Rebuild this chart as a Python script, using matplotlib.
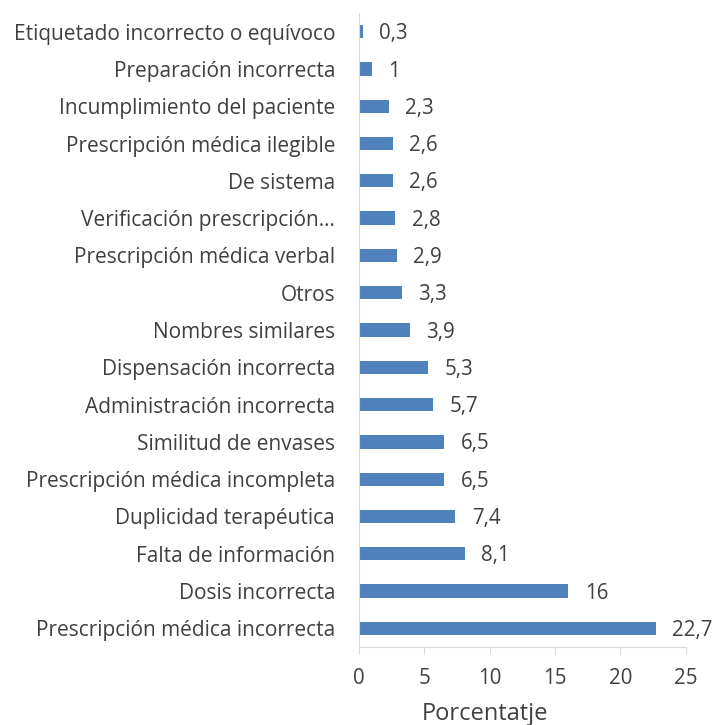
import matplotlib
matplotlib.use("Agg")
import matplotlib.pyplot as plt

categories = [
    "Prescripción médica incorrecta",
    "Dosis incorrecta",
    "Falta de información",
    "Duplicidad terapéutica",
    "Prescripción médica incompleta",
    "Similitud de envases",
    "Administración incorrecta",
    "Dispensación incorrecta",
    "Nombres similares",
    "Otros",
    "Prescripción médica verbal",
    "Verificación prescripción…",
    "De sistema",
    "Prescripción médica ilegible",
    "Incumplimiento del paciente",
    "Preparación incorrecta",
    "Etiquetado incorrecto o equívoco",
]
values = [22.7, 16, 8.1, 7.4, 6.5, 6.5, 5.7, 5.3, 3.9, 3.3, 2.9, 2.8, 2.6, 2.6, 2.3, 1, 0.3]
xticks = [0, 5, 10, 15, 20, 25]
xlabel = "Porcentatje"

plt.rcParams['font.family'] = ['Open Sans', 'DejaVu Sans']
txt = '#404040'
grey = '#D9D9D9'

fig = plt.figure(figsize=(7.16, 7.25), dpi=100)
ax = fig.add_axes([358.7/716, 1-647/725, (685.7-358.7)/716, (647-13)/725])

ypos = list(range(len(categories)))
ax.barh(ypos, values, height=0.357, color='#4F81BD')
for y, v in zip(ypos, values):
    s = f"{v:g}".replace('.', ',')
    ax.annotate(s, (v, y), xytext=(12, -1.5), textcoords='offset points',
                va='center', ha='left', fontsize=14.8, color=txt)

ax.set_xlim(0, 25)
ax.set_ylim(-0.5, len(categories)-0.5)
ax.set_xticks(xticks)
ax.set_xticklabels([str(t) for t in xticks], fontsize=14.8, color=txt)
ax.set_yticks(ypos)
ax.set_yticklabels(categories, fontsize=15, color=txt)
ax.tick_params(axis='y', length=0, pad=17)
ax.tick_params(axis='x', length=5, color=grey, pad=10, direction='out')
for s in ['top', 'right']:
    ax.spines[s].set_visible(False)
ax.spines['left'].set_color(grey)
ax.spines['bottom'].set_color(grey)
ax.set_xlabel(xlabel, fontsize=17, color=txt, labelpad=12)
ax.xaxis.set_label_coords(0.385, -0.087)

fig.savefig("out.png", dpi=100)
